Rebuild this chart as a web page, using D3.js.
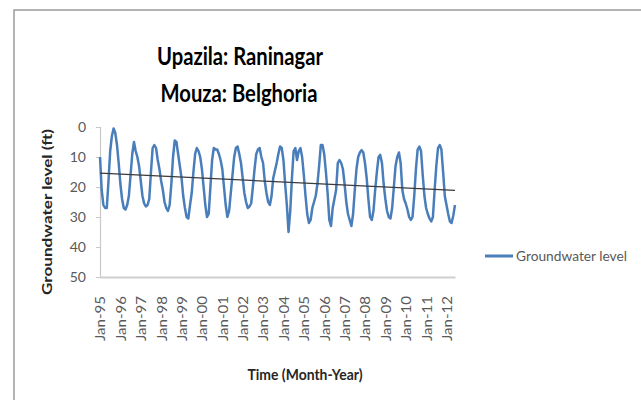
<!DOCTYPE html>
<html>
<head>
<meta charset="utf-8">
<script src="https://cdn.jsdelivr.net/npm/d3@7"></script>
<style>
  html, body { margin: 0; padding: 0; background: #fff; }
  svg { display: block; }
</style>
</head>
<body>
<svg id="chart" width="641" height="401"></svg>
<script>
// Monthly groundwater depth below surface (ft), Jan-1995 .. Jun-2012
const level = [
  10, 21, 26, 27, 27, 18, 8, 3, 0.5, 2, 6, 12,            // 1995
  19, 24, 27, 27.5, 26, 23, 16, 9, 5, 8, 10, 13,          // 1996
  18, 23, 25.5, 26.5, 26, 24, 15, 7, 6, 7, 11, 14,        // 1997
  18, 21, 25, 27, 28, 26, 19, 10, 4.5, 5, 9, 13,          // 1998
  17, 23, 27, 30, 30.5, 26, 22, 15, 9, 7, 8, 10,          // 1999
  14, 20, 26, 30, 29, 20, 11, 7, 7.5, 7.5, 9, 11,         // 2000
  14, 20, 26, 30, 28, 22, 16, 10, 7, 6.5, 9, 12,          // 2001
  17, 22, 25, 27, 26.5, 25.5, 20, 14, 9, 7.5, 7, 10,      // 2002
  12, 18, 22, 25, 26, 23, 17, 14.5, 12, 9, 6.5, 7,        // 2003
  11, 19, 26, 35, 28, 17, 8, 7, 11, 8, 7, 10,             // 2004
  16, 23, 29, 32, 31, 27, 25, 23, 19, 13, 6, 6,           // 2005
  9, 15, 22, 31, 33, 27, 24, 21, 12, 11, 12, 14,          // 2006
  19, 25, 29, 31, 33, 29, 21, 14, 10, 8.5, 7.7, 8.5,      // 2007
  12, 17, 24, 30, 31, 28, 21, 15, 10, 9.3, 12, 19,        // 2008
  24, 28, 30, 30.5, 27, 20, 13, 10, 8.5, 12, 21, 24,      // 2009
  25.5, 27.5, 30, 31, 30, 23, 14, 7.5, 6.5, 8, 16, 23,    // 2010
  27, 29, 30.5, 31.5, 30, 21, 13, 7, 6, 7.5, 15, 23,      // 2011
  26, 29, 31.5, 32, 29.5, 26                              // 2012
];

// Axis labels: one per January
const yearLabels = ["Jan-95","Jan-96","Jan-97","Jan-98","Jan-99","Jan-00","Jan-01","Jan-02","Jan-03",
                    "Jan-04","Jan-05","Jan-06","Jan-07","Jan-08","Jan-09","Jan-10","Jan-11","Jan-12"];
const yTicks = [0, 10, 20, 30, 40, 50];

const titleLines = ["Upazila: Raninagar", "Mouza: Belghoria"];
const xTitle = "Time (Month-Year)";
const yTitle = "Groundwater level (ft)";
const seriesName = "Groundwater level";

const blue = "#4a7ebb";
const font = "Lato, 'Open Sans', sans-serif";

const svg = d3.select("#chart");

// frame of the chart area
svg.append("path")
  .attr("d", "M14,400 L14,10 L641,10")
  .attr("fill", "none")
  .attr("stroke", "#9a9a9a")
  .attr("stroke-width", 1.5);

const x = d3.scaleLinear().domain([0, level.length - 1]).range([100, 455]);
const y = d3.scaleLinear().domain([0, 50]).range([127, 277]);

// y axis
const yAxis = svg.append("g")
  .attr("transform", "translate(100,0)")
  .call(d3.axisLeft(y).tickValues(yTicks).tickSize(4).tickPadding(10).tickFormat(d3.format("d")));
yAxis.select(".domain").attr("stroke", "#c8c8c8").attr("stroke-width", 1.2);
yAxis.selectAll(".tick line").attr("stroke", "#c8c8c8");
yAxis.selectAll("text")
  .attr("fill", "#595959")
  .style("font-family", font)
  .style("font-size", "14px");

// x axis with rotated January labels
const xAxis = svg.append("g")
  .attr("transform", "translate(0,277)")
  .call(d3.axisBottom(x)
    .tickValues(yearLabels.map((_, i) => i * 12))
    .tickSize(0)
    .tickFormat((d, i) => yearLabels[i]));
xAxis.select(".domain").attr("stroke", "#cfcfcf").attr("stroke-width", 2);
xAxis.selectAll("text")
  .attr("transform", "rotate(-90)")
  .attr("x", -19)
  .attr("y", 0)
  .attr("dy", "0.35em")
  .style("text-anchor", "end")
  .attr("fill", "#595959")
  .style("font-family", font)
  .style("font-size", "14px")
  .attr("textLength", 45)
  .attr("lengthAdjust", "spacingAndGlyphs");

// series
const line = d3.line()
  .x((d, i) => x(i))
  .y(d => y(d));
svg.append("path")
  .datum(level)
  .attr("d", line)
  .attr("fill", "none")
  .attr("stroke", blue)
  .attr("stroke-width", 2.5)
  .attr("stroke-linejoin", "round");

// least-squares linear trend of the series
const n = level.length;
const mx = d3.mean(level, (d, i) => i);
const my = d3.mean(level);
const slope = d3.sum(level, (d, i) => (i - mx) * (d - my)) / d3.sum(level, (d, i) => (i - mx) * (i - mx));
const icpt = my - slope * mx;
svg.append("line")
  .attr("x1", x(0)).attr("y1", y(icpt))
  .attr("x2", x(n - 1)).attr("y2", y(icpt + slope * (n - 1)))
  .attr("stroke", "#3a3a3a")
  .attr("stroke-width", 1.2);

// titles
const title = svg.append("g")
  .style("font-family", font)
  .style("font-weight", "bold")
  .attr("fill", "#000");
title.append("text").attr("x", 240).attr("y", 65)
  .attr("text-anchor", "middle").style("font-size", "25px")
  .attr("textLength", 166).attr("lengthAdjust", "spacingAndGlyphs")
  .text(titleLines[0]);
title.append("text").attr("x", 239).attr("y", 101.5)
  .attr("text-anchor", "middle").style("font-size", "25px")
  .attr("textLength", 157).attr("lengthAdjust", "spacingAndGlyphs")
  .text(titleLines[1]);

svg.append("text")
  .attr("x", 305).attr("y", 380)
  .attr("text-anchor", "middle")
  .style("font-family", font).style("font-weight", "bold").style("font-size", "16px")
  .attr("fill", "#262626")
  .attr("textLength", 115).attr("lengthAdjust", "spacingAndGlyphs")
  .text(xTitle);

svg.append("text")
  .attr("transform", "translate(52,212) rotate(-90)")
  .attr("text-anchor", "middle")
  .style("font-family", font).style("font-weight", "bold").style("font-size", "14px")
  .attr("fill", "#262626")
  .attr("textLength", 166).attr("lengthAdjust", "spacingAndGlyphs")
  .text(yTitle);

// legend
svg.append("line")
  .attr("x1", 485).attr("x2", 513).attr("y1", 256).attr("y2", 256)
  .attr("stroke", blue).attr("stroke-width", 3);
svg.append("text")
  .attr("x", 516).attr("y", 256).attr("dy", "0.35em")
  .style("font-family", font).style("font-size", "13px")
  .attr("fill", "#595959")
  .attr("textLength", 111).attr("lengthAdjust", "spacingAndGlyphs")
  .text(seriesName);
</script>
</body>
</html>
